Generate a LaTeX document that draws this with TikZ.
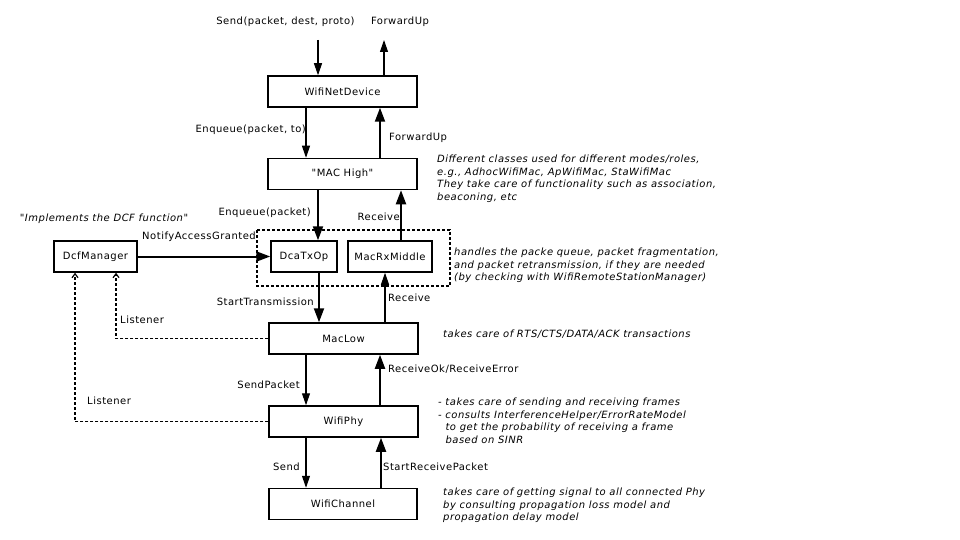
\documentclass[tikz,border=0pt]{standalone}
\usepackage{fontspec}
\newfontfamily\diagfont{DejaVu Sans}[LetterSpace=5]
\usetikzlibrary{arrows.meta}

\begin{document}
\begin{tikzpicture}[x=1pt,y=-1pt,
  every node/.style={font=\diagfont\fontsize{10}{12.5}\selectfont, inner sep=0pt},
  block/.style={draw, line width=1.5pt, minimum height=31pt, align=center},
  thinarrow/.style={line width=1.1pt, -{Triangle[length=12pt,width=8pt]}},
  thickarrow/.style={line width=2pt, -{Triangle[length=14pt,width=10pt]}},
  listener/.style={line width=1.2pt, dash pattern=on 3pt off 2pt, -{Straight Barb[length=4pt,width=6pt]}},
  note/.style={anchor=north west, align=left, font=\diagfont\fontsize{10}{12.5}\selectfont\itshape}]
\useasboundingbox (0,0) rectangle (960,540);
\fill[white] (0,0) rectangle (960,540);

\node[block, minimum width=149pt] (netdev) at (342.5,91.5) {WifiNetDevice};
\node[block, minimum width=149pt] (machigh) at (342.5,174) {"MAC High"};
\node[block, minimum width=83pt] (dcfmgr) at (95.5,256.5) {DcfManager};
\node[block, minimum width=66pt] (dcatxop) at (304,256.5) {DcaTxOp};
\node[block, minimum width=84pt] (rxmiddle) at (390,256.5) {MacRxMiddle};
\node[block, minimum width=149pt] (maclow) at (343.5,338.5) {MacLow};
\node[block, minimum width=149pt] (wifiphy) at (343.5,421.5) {WifiPhy};
\node[block, minimum width=148pt] (channel) at (343,504) {WifiChannel};
\draw[line width=1.2pt, dash pattern=on 3pt off 2pt] (257,230) rectangle (450,286);

\coordinate (sendin) at (318,40);
\coordinate (fwdout) at (384,40);
\node (sendlbl) at (285.5,22) {Send(packet, dest, proto)};
\node (fwdlbl) at (400,22) {ForwardUp};
\draw[thinarrow] (sendin) -- (sendin |- netdev.north);
\draw[thinarrow] (netdev.north -| fwdout) -- (fwdout);

\draw[thinarrow] ([xshift=-36.5pt]netdev.south) -- ([xshift=-36.5pt]machigh.north);
\draw[thickarrow] ([xshift=37.5pt]machigh.north) -- ([xshift=37.5pt]netdev.south);
\node[anchor=east] at (306,130) {Enqueue(packet, to)};
\node[anchor=west] at (389,138) {ForwardUp};

\draw[thickarrow] ([xshift=-24.5pt]machigh.south) -- ([xshift=14pt]dcatxop.north);
\draw[thickarrow] ([xshift=11pt]rxmiddle.north) -- ([xshift=58.5pt]machigh.south);
\node[anchor=east] at (311,213) {Enqueue(packet)};
\node[anchor=east] at (400,217) {Receive};

\node[note, anchor=center] at (104,219) {"Implements the DCF function"};
\draw[thickarrow] (dcfmgr) -- (dcatxop);
\node at (199,237) {NotifyAccessGranted};

\draw[thickarrow] ([xshift=15pt]dcatxop.south) -- ([xshift=-24.5pt]maclow.north);
\draw[thinarrow] ([xshift=41.5pt]maclow.north) -- ([xshift=-5pt]rxmiddle.south);
\node[anchor=east] at (314,302) {StartTransmission};
\node[anchor=west] at (388,298) {Receive};

\draw[listener] (maclow.west) -| ([xshift=20.5pt]dcfmgr.south);
\draw[listener] (wifiphy.west) -| ([xshift=-20.5pt]dcfmgr.south);
\node[anchor=west] at (120,320) {Listener};
\node[anchor=west] at (87,401) {Listener};

\draw[thinarrow] ([xshift=-37.5pt]maclow.south) -- ([xshift=-37.5pt]wifiphy.north);
\draw[thickarrow] ([xshift=36.5pt]wifiphy.north) -- ([xshift=36.5pt]maclow.south);
\node[anchor=east] at (300,385) {SendPacket};
\node[anchor=west] at (388,369) {ReceiveOk/ReceiveError};

\draw[thinarrow] ([xshift=-37.5pt]wifiphy.south) -- ([xshift=-37pt]channel.north);
\draw[thickarrow] ([xshift=38pt]channel.north) -- ([xshift=37.5pt]wifiphy.south);
\node[anchor=east] at (300,467) {Send};
\node[anchor=west] at (383,467) {StartReceivePacket};

\node[note] at (437,155) {Different classes used for different modes/roles,\\e.g., AdhocWifiMac, ApWifiMac, StaWifiMac\\They take care of functionality such as association,\\beaconing, etc};
\node[note] at (454,248) {handles the packe queue, packet fragmentation,\\and packet retransmission, if they are needed\\(by checking with WifiRemoteStationManager)};
\node[note] at (443,330) {takes care of RTS/CTS/DATA/ACK transactions};
\node[note] at (438,398) {- takes care of sending and receiving frames\\- consults InterferenceHelper/ErrorRateModel\\\ \ to get the probability of receiving a frame\\\ \ based on SINR};
\node[note] at (443,488) {takes care of getting signal to all connected Phy\\by consulting propagation loss model and\\propagation delay model};
\end{tikzpicture}
\end{document}
